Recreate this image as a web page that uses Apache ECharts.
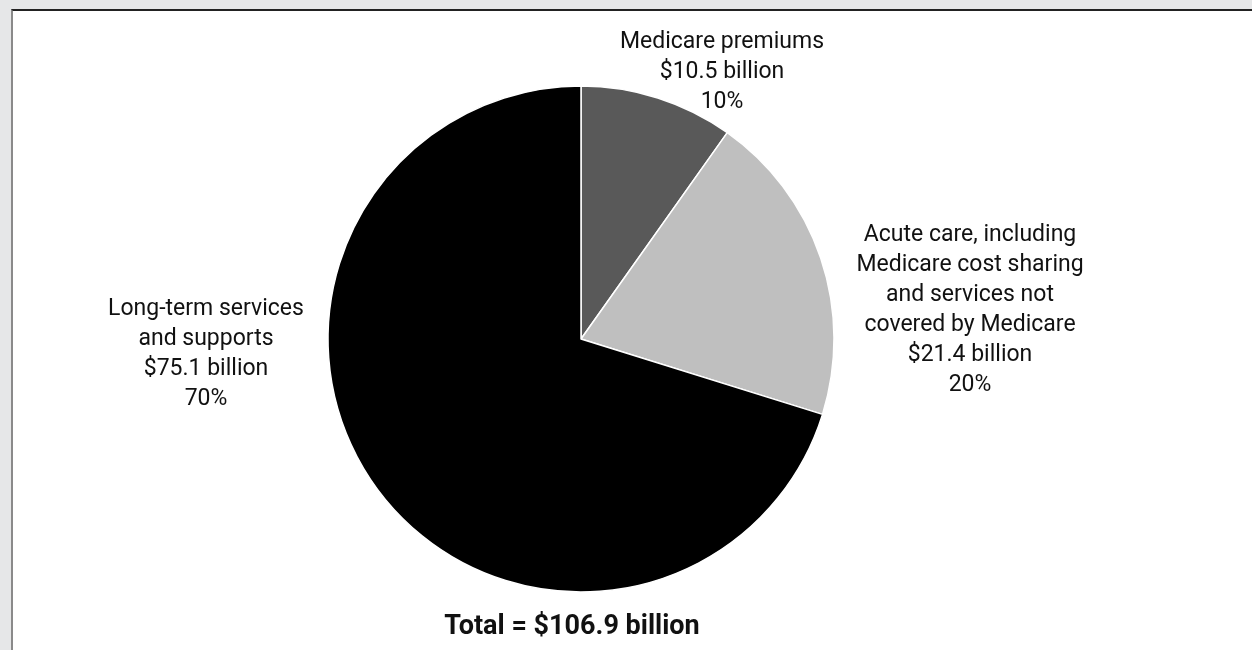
<!DOCTYPE html>
<html>
<head>
<meta charset="utf-8">
<script src="https://cdn.jsdelivr.net/npm/echarts@6/dist/echarts.min.js"></script>
<style>
  html, body { margin: 0; padding: 0; }
  body { width: 1252px; height: 650px; background: #e6e7e8; position: relative; overflow: hidden; }
  #panel {
    position: absolute; left: 11px; top: 9px; right: 0; bottom: 0;
    background: #ffffff;
    border-top: 2px solid #222222;
    border-left: 2px solid #8a8a8a;
  }
  #chart { position: absolute; left: 0; top: 0; width: 1252px; height: 650px; }
</style>
</head>
<body>
<div id="panel"></div>
<div id="chart"></div>
<script>
// Out-of-pocket spending breakdown, billions of dollars
const categories = [
  'Medicare premiums',
  'Acute care, including\nMedicare cost sharing\nand services not\ncovered by Medicare',
  'Long-term services\nand supports'
];
const amounts = [10.5, 21.4, 75.1];
const totalLabel = 'Total = $106.9 billion';

const sliceColors = ['#595959', '#bfbfbf', '#000000'];
// label block centres, by slice
const labelCentres = [[722, 72], [970, 310], [206, 354]];
const FONT = 'Roboto, "Liberation Sans", sans-serif';

const chart = echarts.init(document.getElementById('chart'), null, { renderer: 'canvas' });

chart.setOption({
  backgroundColor: 'transparent',
  animation: false,
  title: {
    text: totalLabel,
    left: 567,
    top: 622,
    textAlign: 'center',
    textVerticalAlign: 'middle',
    textStyle: {
      fontFamily: FONT,
      fontWeight: 'bold',
      fontSize: 27,
      color: '#111111'
    }
  },
  series: [{
    type: 'pie',
    center: [581, 339],
    radius: 253,
    startAngle: 90,
    clockwise: true,
    avoidLabelOverlap: false,
    itemStyle: { borderColor: '#ffffff', borderWidth: 1.5 },
    labelLine: { show: false },
    label: {
      show: true,
      position: 'outside',
      align: 'center',
      fontFamily: FONT,
      fontSize: 23,
      lineHeight: 30,
      color: '#111111',
      formatter: p => p.name + '\n$' + p.value.toFixed(1) + ' billion\n' + Math.round(p.percent) + '%'
    },
    labelLayout: p => ({
      x: labelCentres[p.dataIndex][0],
      y: labelCentres[p.dataIndex][1],
      align: 'center',
      verticalAlign: 'middle'
    }),
    emphasis: { disabled: true },
    data: categories.map((name, i) => ({
      name: name,
      value: amounts[i],
      itemStyle: { color: sliceColors[i] }
    }))
  }]
});
</script>
</body>
</html>
